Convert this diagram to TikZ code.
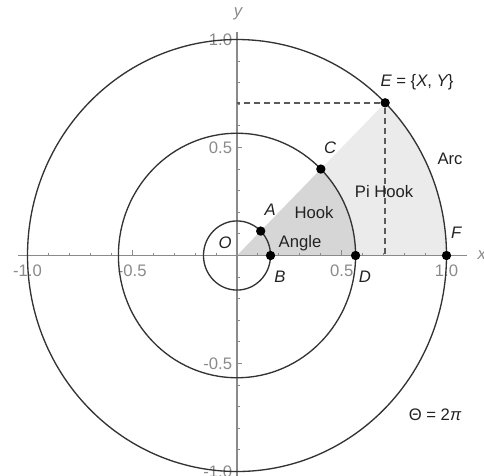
\documentclass[tikz,border=0pt]{standalone}
\usepackage{fontspec}
\setmainfont{Liberation Sans}
\definecolor{axisgray}{HTML}{8A8A8A}
\definecolor{labgray}{HTML}{222222}
\definecolor{curvegray}{HTML}{333333}
\definecolor{lightfill}{HTML}{EBEBEB}
\definecolor{darkfill}{HTML}{D6D6D6}
\definecolor{dashgray}{HTML}{5A5A5A}
\tikzset{
  axisline/.style={draw=axisgray, line width=0.8pt},
  tickline/.style={draw=axisgray, line width=0.7pt},
  ticklab/.style={text=axisgray, inner sep=0pt, font=\fontsize{12.5}{14}\selectfont},
  lab/.style={text=labgray, inner sep=0pt, font=\fontsize{12.5}{14}\selectfont},
  curve/.style={draw=curvegray, line width=1pt},
  dashln/.style={draw=dashgray, line width=1.1pt, dash pattern=on 4.5pt off 3pt},
  dot/.style={circle, fill=black, inner sep=0pt, minimum size=7pt},
}
\begin{document}
\begin{tikzpicture}[x=157.125pt, y=162pt]
\useasboundingbox (-1.1313,-1.0208) rectangle (1.1790,1.1829);
% sectors
\fill[lightfill] (0,0) -- (1,0) arc[start angle=0, end angle=45, radius=1] -- cycle;
\fill[darkfill] (0,0) -- (0.566,0) arc[start angle=0, end angle=45, radius=0.566] -- cycle;
% axes
\draw[axisline] (-1.045,0) -- (1.098,0);
\draw[axisline] (0,-1.03) -- (0,1.035);
\foreach \i in {-10,...,10} {
  \ifnum\i=0\relax\else
    \pgfmathsetmacro{\t}{\i/10}
    \draw[tickline] (\t,0) -- ++(0,2.2pt);
    \draw[tickline] (0,\t) -- ++(2.2pt,0);
  \fi
}
\foreach \t in {-1,-0.5,0.5,1} {
  \draw[tickline] (\t,0) -- ++(0,3.8pt);
  \draw[tickline] (0,\t) -- ++(3.8pt,0);
}
\node[ticklab] (xm10) at (-1,-0.072) {-1.0};
\node[ticklab] (xm05) at (-0.5,-0.072) {-0.5};
\node[ticklab] (xp05) at (0.5,-0.072) {0.5};
\node[ticklab] (xp10) at (1,-0.072) {1.0};
\node[ticklab, anchor=east] (yp10) at (-0.022,1) {1.0};
\node[ticklab, anchor=east] (yp05) at (-0.022,0.5) {0.5};
\node[ticklab, anchor=east] (ym05) at (-0.022,-0.5) {-0.5};
\node[ticklab, anchor=east] (ym10) at (-0.022,-1) {-1.0};
\node[ticklab, font=\fontsize{12.5}{14}\selectfont\itshape] (xlab) at (1.168,0.004) {x};
\node[ticklab, font=\fontsize{12.5}{14}\selectfont\itshape] (ylab) at (0.005,1.118) {y};
% circles
\draw[curve] (0,0) circle[radius=1];
\draw[curve] (0,0) circle[radius=0.566];
\draw[curve] (0,0) circle[radius=0.16];
% dashed lines
\coordinate (ey) at (0,0.7071);
\coordinate (ex) at (0.7071,0);
\node[dot] (E) at (0.7071,0.7071) {};
\draw[dashln] (E) -- (ey);
\draw[dashln] (E) -- (ex);
% points
\node[dot] (A) at (0.1131,0.1131) {};
\node[dot] (B) at (0.16,0) {};
\node[dot] (C) at (0.4002,0.4002) {};
\node[dot] (D) at (0.566,0) {};
\node[dot] (F) at (1,0) {};
% labels
\node[lab] (lO) at (-0.057,0.058) {\itshape O};
\node[lab] (lA) at (0.158,0.211) {\itshape A};
\node[lab] (lB) at (0.205,-0.100) {\itshape B};
\node[lab] (lC) at (0.444,0.497) {\itshape C};
\node[lab] (lD) at (0.611,-0.100) {\itshape D};
\node[lab] (lF) at (1.046,0.104) {\itshape F};
\node[lab] (lE) at (0.859,0.803) {\itshape E\upshape\ = \{\itshape X\upshape, \itshape Y\upshape\}};
\node[lab] (hook) at (0.368,0.201) {Hook};
\node[lab] (angle) at (0.301,0.058) {Angle};
\node[lab] (pihook) at (0.702,0.294) {Pi Hook};
\node[lab] (arc) at (1.017,0.447) {Arc};
\node[lab] (theta) at (0.945,-0.738) {Θ = 2\itshape π};
\end{tikzpicture}
\end{document}
